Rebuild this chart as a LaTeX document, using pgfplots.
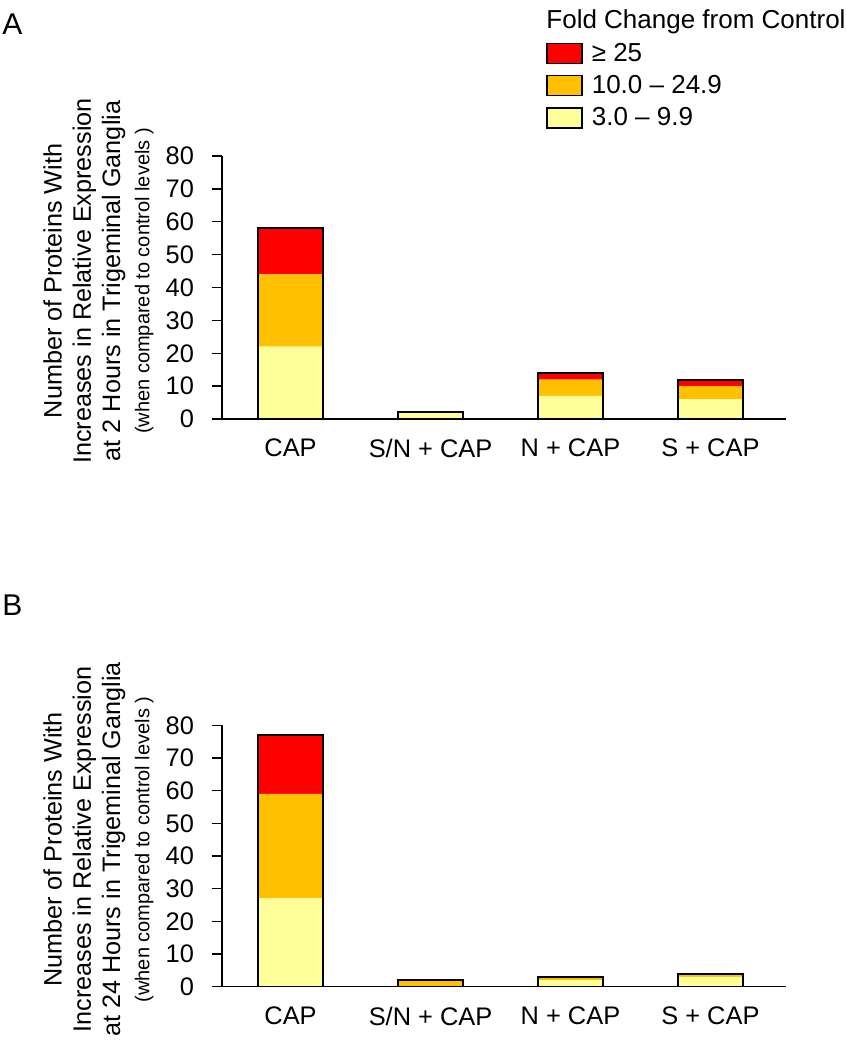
\documentclass[border=0pt]{standalone}
\usepackage{fontspec}
\setmainfont{Liberation Sans}
\usepackage{pgfplots}
\pgfplotsset{compat=1.18}
\definecolor{cred}{HTML}{FF0000}
\definecolor{corange}{HTML}{FFC000}
\definecolor{cyellow}{HTML}{FFFF99}

\pgfplotsset{
  panelgeom/.style={
    scale only axis, width=282pt,
    xmin=-0.49, xmax=3.54, ymin=0, ymax=80,
  },
  panel/.style={
    panelgeom,
    axis x line*=bottom, axis y line*=left,
    axis line style={line width=0.7pt, black},
    ytick={0,10,...,80}, tick align=outside,
    major tick length=5pt,
    xtick={0,1,2,3},
    xticklabels={CAP, S/N + CAP, N + CAP, S + CAP},
    x tick style={draw=none},
    y tick style={line width=0.7pt, black},
    tick label style={font=\fontsize{12.7}{15}\selectfont},
    xticklabel style={yshift=-1.5pt},
    yticklabel style={xshift=-5.5pt},
    /pgf/number format/assume math mode=true,
    ybar stacked, bar width=32.5pt,
    ylabel style={align=center, font=\fontsize{12.6}{14.6}\selectfont,
      at={(axis description cs:-0.219,0.525)}, anchor=center},
  },
  outline/.style={
    panelgeom, hide axis, ybar, bar width=32.5pt,
  },
}

\begin{document}
\begin{tikzpicture}
\useasboundingbox (0,0) rectangle (423pt,-525pt);

% ---------- Panel A ----------
\begin{axis}[panel, height=131.5pt, clip=false,
  at={(111pt,-209.5pt)}, anchor=south west,
  ylabel={Number of Proteins With\\Increases in Relative Expression\\at 2 Hours in Trigeminal Ganglia\\{\fontsize{10}{12}\selectfont (when compared to control levels )}},
  legend style={at={(axis description cs:0.5745,1.447)}, anchor=north west,
    draw=none, fill=none, inner sep=0pt, row sep=1.6pt, column sep=2.5pt,
    font=\fontsize{13}{15}\selectfont, cells={anchor=west}},
  legend image code/.code={\draw[#1, draw=black, line width=0.7pt] (0pt,-5pt) rectangle (17.5pt,5pt);},
  reverse legend,
]
\addplot[fill=cyellow, draw=none] coordinates {(0,22) (1,2) (2,7) (3,6)};
\addplot[fill=corange, draw=none] coordinates {(0,22) (1,0) (2,5) (3,4)};
\addplot[fill=cred, draw=none] coordinates {(0,14) (1,0) (2,2) (3,2)};
\legend{3.0 -- 9.9, 10.0 -- 24.9, ≥ 25}
\node[anchor=base west, font=\fontsize{13}{15}\selectfont, inner sep=0pt]
  at (axis description cs:0.5745,1.483) {Fold Change from Control};
\end{axis}
\begin{axis}[outline, height=131.5pt, at={(111pt,-209.5pt)}, anchor=south west]
\addplot[fill=none, draw=black, line width=1pt] coordinates {(0,58) (1,2) (2,14) (3,12)};
\end{axis}

% ---------- Panel B ----------
\begin{axis}[panel, height=130.7pt,
  at={(111pt,-493.35pt)}, anchor=south west,
  ylabel={Number of Proteins With\\Increases in Relative Expression\\at 24 Hours in Trigeminal Ganglia\\{\fontsize{10}{12}\selectfont (when compared to control levels )}},
]
\addplot[fill=cyellow, draw=none] coordinates {(0,27) (1,0) (2,2) (3,3)};
\addplot[fill=corange, draw=none] coordinates {(0,32) (1,2) (2,1) (3,1)};
\addplot[fill=cred, draw=none] coordinates {(0,18) (1,0) (2,0) (3,0)};
\end{axis}
\begin{axis}[outline, height=130.7pt, at={(111pt,-493.35pt)}, anchor=south west]
\addplot[fill=none, draw=black, line width=1pt] coordinates {(0,77) (1,2) (2,3) (3,4)};
\end{axis}

% panel letters
\node[anchor=base west, font=\fontsize{15}{18}\selectfont, inner sep=0pt] at (1pt,-17pt) {A};
\node[anchor=base west, font=\fontsize{15}{18}\selectfont, inner sep=0pt] at (1pt,-307.5pt) {B};
\end{tikzpicture}
\end{document}
